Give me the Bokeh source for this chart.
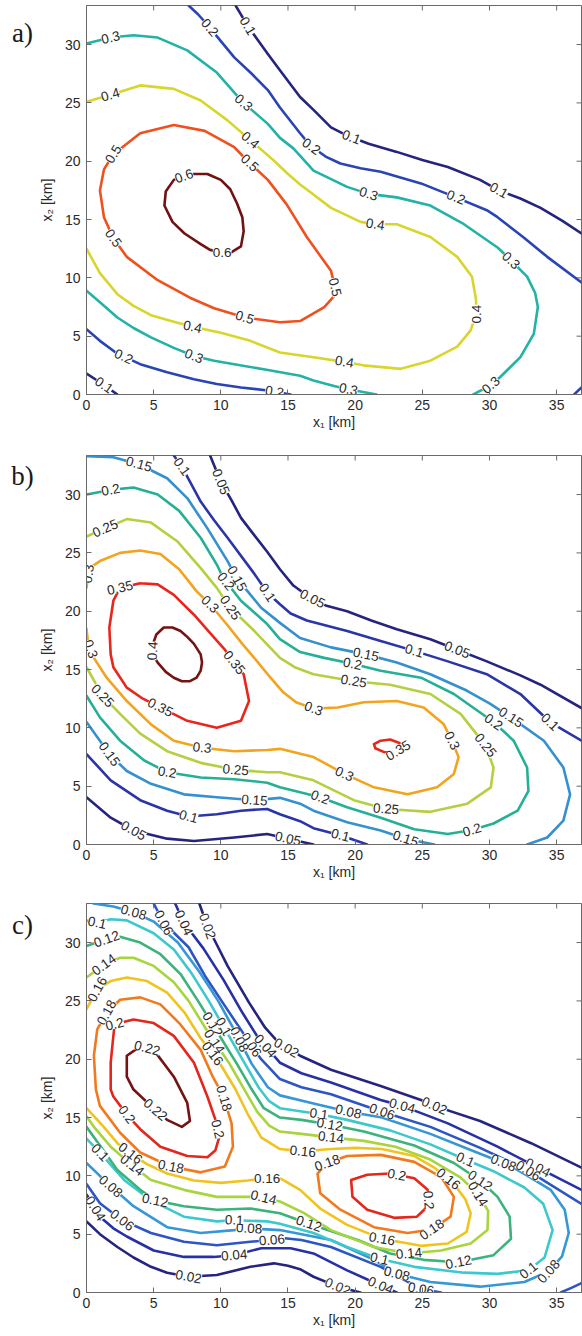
import math
from bokeh.plotting import figure
from bokeh.models import Range1d, FixedTicker, ColumnDataSource
from bokeh.layouts import column, row
from bokeh.embed import file_html
from bokeh.resources import INLINE
from bokeh.core.properties import value

X_MAX = 36.85
Y_MAX = 33.35
X_TICKS = [0, 5, 10, 15, 20, 25, 30, 35]
Y_TICKS = [0, 5, 10, 15, 20, 25, 30]
X_LABEL = "x\u2081 [km]"
Y_LABEL = "x\u2082 [km]"
PANEL_NAMES = ["a)", "b)", "c)"]

# ---------------- panel a ----------------
A_LEVELS = [0.1, 0.2, 0.3, 0.4, 0.5, 0.6]
A_COLORS = ["#25247e", "#2a44b4", "#22b2a6", "#d8d62c", "#f0501e", "#701212"]
A_L01_UPPER = [(11.1, 33.35), (12.0, 31.6), (13.5, 29.2), (14.4, 27.8), (15.9, 25.5), (16.9, 24.4), (18.2, 22.9),
               (19.4, 22.2), (21.0, 21.5), (23.1, 20.8), (25.0, 20.1), (26.9, 19.5), (29.3, 18.4), (30.7, 17.5),
               (32.3, 16.8), (33.8, 16.0), (35.4, 14.9), (36.85, 13.8)]
A_L01_LOWER = [(0, 1.8), (1.0, 1.05), (2.3, 0)]
A_L02_UPPER = [(7.6, 33.35), (8.3, 32.6), (9.0, 31.7), (10.0, 30.3), (11.0, 28.9), (12.3, 27.5), (13.5, 26.1),
               (14.4, 24.6), (15.9, 22.4), (16.7, 21.3), (17.8, 20.4), (18.9, 19.8), (20.4, 19.4), (21.9, 19.1),
               (24.9, 18.1), (27.5, 16.9), (29.8, 15.8), (30.6, 15.2), (32.5, 13.5), (34.3, 11.8), (36.85, 9.6)]
A_L02_LOWER = [(0, 5.6), (1.0, 4.6), (2.3, 3.5), (4.0, 2.6), (6.0, 1.9), (8.0, 1.3), (9.7, 0.9), (11.5, 0.6),
               (13.5, 0.35), (15.2, 0)]
A_L02_CORNER = [(36.3, 0), (36.85, 0.6)]
A_L03_UPPER = [(0, 30.1), (1.8, 30.6), (3.5, 30.8), (5.3, 30.6), (7.5, 29.5), (9.7, 27.6), (11.6, 25.1),
               (13.5, 23.2), (14.4, 22.0), (15.4, 21.1), (16.9, 19.2), (19.4, 17.8), (21.0, 17.2), (23.1, 16.9),
               (25.6, 16.2), (28.1, 14.6), (30.6, 12.6), (31.6, 11.5), (32.8, 10.1), (33.4, 8.7), (33.6, 7.5),
               (33.3, 5.2), (32.3, 3.2), (30.8, 1.5), (30.1, 0.8), (28.8, 0)]
A_L03_LOWER = [(0, 8.9), (1.0, 7.9), (2.3, 6.6), (3.5, 5.7), (4.8, 4.9), (6.5, 4.0), (8.0, 3.3), (9.5, 2.9),
               (11.0, 2.6), (13.5, 2.1), (15.9, 1.6), (16.9, 1.2), (18.5, 0.7), (19.5, 0.45), (21.6, 0)]
A_L04 = [(0, 25.1), (1.8, 25.7), (4.0, 26.5), (6.5, 26.2), (8.5, 25.2), (10.5, 23.5), (12.2, 21.8), (13.9, 20.1),
         (15.0, 18.9), (15.9, 18.0), (16.6, 17.4), (18.2, 16.0), (20.4, 14.8), (21.5, 14.6), (23.1, 14.6),
         (25.6, 13.5), (27.6, 11.8), (28.7, 10.1), (29.0, 8.1), (29.0, 6.9), (28.6, 5.5), (27.6, 4.1), (25.6, 2.9),
         (23.4, 2.2), (20.6, 2.5), (19.2, 2.8), (16.9, 3.2), (14.4, 3.6), (12.2, 4.6), (10.0, 5.3), (7.9, 5.8),
         (6.3, 6.3), (4.8, 6.8), (3.5, 7.6), (2.3, 8.6), (1.0, 10.4), (0, 12.5)]
A_L05 = [(6.5, 23.1), (8.8, 22.6), (11.0, 21.2), (12.1, 19.9), (13.5, 18.4), (14.9, 16.3), (16.4, 13.5),
         (18.2, 10.6), (18.5, 9.2), (18.4, 8.4), (17.7, 7.5), (15.9, 6.3), (14.4, 6.2), (11.8, 6.6), (9.5, 7.4),
         (7.7, 8.3), (5.3, 9.8), (3.0, 11.8), (2.0, 13.4), (1.3, 15.2), (1.0, 17.5), (1.3, 19.3), (2.0, 20.6),
         (4.0, 22.4), (6.5, 23.1)]
A_L06 = [(7.7, 18.9), (9.0, 18.9), (10.0, 18.4), (10.7, 17.6), (11.2, 16.4), (11.6, 15.2), (11.7, 14.0),
         (11.5, 12.7), (10.8, 12.2), (10.1, 12.2), (9.2, 12.4), (8.5, 12.9), (7.3, 13.8), (6.4, 14.8), (5.8, 16.2),
         (5.9, 17.4), (6.5, 18.4), (7.7, 18.9)]
A_LINES = {0.1: [A_L01_UPPER, A_L01_LOWER], 0.2: [A_L02_UPPER, A_L02_LOWER, A_L02_CORNER],
           0.3: [A_L03_UPPER, A_L03_LOWER], 0.4: [A_L04], 0.5: [A_L05], 0.6: [A_L06]}
A_LABELS = [(0.1, 12.0, 31.6), (0.1, 19.7, 22.0), (0.1, 30.7, 17.5), (0.1, 1.3, 0.8),
            (0.2, 9.0, 31.3), (0.2, 16.7, 21.2), (0.2, 27.5, 16.9), (0.2, 2.7, 3.1), (0.2, 14.0, 0.3),
            (0.3, 1.8, 30.6), (0.3, 11.6, 24.9), (0.3, 21.0, 17.2), (0.3, 31.6, 11.5), (0.3, 8.0, 3.3),
            (0.3, 30.1, 0.8), (0.3, 19.5, 0.5),
            (0.4, 1.8, 25.6), (0.4, 12.2, 21.8), (0.4, 21.5, 14.6), (0.4, 29.0, 6.9), (0.4, 19.2, 2.8),
            (0.4, 7.9, 5.8),
            (0.5, 2.0, 20.6), (0.5, 12.1, 19.8), (0.5, 2.0, 13.4), (0.5, 11.8, 6.7), (0.5, 18.5, 9.2),
            (0.6, 7.3, 18.6), (0.6, 10.1, 12.2)]

# ---------------- panel b ----------------
B_LEVELS = [0.05, 0.1, 0.15, 0.2, 0.25, 0.3, 0.35, 0.4]
B_COLORS = ["#25247e", "#2b35a8", "#3590d0", "#25b096", "#b4d040", "#f2a41e", "#e8261c", "#751212"]
B_L005_UPPER = [(9.2, 33.35), (10.0, 31.1), (10.8, 29.5), (11.5, 28.0), (12.5, 26.5), (13.45, 25.1),
                (14.4, 23.6), (15.4, 22.2), (16.6, 21.2), (17.8, 20.5), (19.4, 20.0), (21.2, 19.2),
                (23.1, 18.45), (25.6, 17.6), (27.6, 16.7), (29.8, 15.7), (32.3, 14.5), (33.8, 13.7),
                (36.85, 11.7)]
B_L005_LOWER = [(0, 4.05), (1.8, 2.3), (3.5, 1.2), (6.0, 0.5), (8.0, 0.3), (11.0, 0.6), (13.45, 0.9),
                (15.0, 0.5), (16.9, 0)]
B_L01_UPPER = [(6.5, 33.35), (7.1, 32.4), (8.5, 29.4), (9.5, 27.8), (10.5, 26.3), (12.5, 23.2), (13.45, 21.6),
               (14.4, 20.6), (15.2, 19.8), (16.4, 19.2), (19.4, 18.3), (21.9, 17.45), (24.4, 16.6),
               (26.9, 15.7), (29.8, 14.6), (32.3, 12.9), (34.5, 10.5), (36.85, 8.9)]
B_L01_LOWER = [(0, 7.75), (1.8, 5.5), (4.0, 3.8), (6.0, 2.9), (7.6, 2.4), (9.7, 2.6), (11.5, 2.9),
               (13.45, 3.05), (14.4, 2.6), (15.9, 2.0), (16.9, 1.4), (18.9, 0.8), (20.9, 0)]
B_L015_UPPER = [(0, 33.3), (2.0, 33.2), (3.9, 32.6), (6.0, 31.4), (7.5, 29.7), (9.0, 27.1), (10.5, 24.3),
                (11.2, 22.8), (12.0, 21.7), (13.0, 20.3), (14.4, 19.0), (15.9, 17.7), (18.2, 16.9),
                (20.8, 16.3), (23.1, 15.6), (25.6, 14.6), (28.3, 13.2), (30.0, 12.1), (31.6, 10.9),
                (34.05, 8.9), (35.5, 6.6), (36.0, 4.3), (35.5, 2.05), (34.3, 0.6), (32.8, 0)]
B_L015_LOWER = [(0, 10.5), (1.7, 7.75), (3.0, 6.3), (4.8, 5.2), (7.25, 4.3), (9.7, 4.05), (12.5, 3.8),
                (14.4, 4.0), (15.9, 3.5), (16.9, 2.9), (19.4, 1.9), (21.9, 1.2), (23.75, 0.5), (25.9, 0)]
B_L02 = [(0, 30.0), (1.8, 30.4), (3.5, 30.6), (5.3, 30.0), (6.9, 28.6), (8.5, 26.3), (9.7, 24.0), (10.2, 22.8),
         (11.5, 20.9), (13.45, 18.9), (14.4, 17.6), (15.9, 16.5), (17.7, 16.0), (19.8, 15.5), (21.9, 14.9),
         (24.9, 14.3), (27.35, 12.9), (30.3, 10.5), (31.8, 8.9), (32.8, 6.6), (32.9, 4.6), (32.1, 2.9),
         (30.3, 1.8), (28.7, 1.25), (26.9, 0.9), (24.4, 1.3), (21.9, 2.3), (19.4, 3.2), (17.4, 4.05),
         (14.4, 4.9), (13.45, 5.3), (11.0, 5.6), (8.5, 5.75), (6.0, 6.2), (4.3, 7.2), (2.5, 8.9), (1.0, 10.9),
         (0, 12.75)]
B_L025 = [(0, 26.4), (1.4, 27.1), (3.0, 27.9), (4.8, 27.6), (6.75, 26.0), (8.5, 23.7), (9.7, 22.0),
          (10.7, 20.3), (12.5, 18.3), (14.4, 16.0), (15.5, 15.2), (16.9, 14.6), (19.9, 14.0), (22.6, 13.7),
          (25.6, 12.9), (27.85, 11.2), (29.7, 8.5), (30.3, 6.6), (30.1, 4.9), (28.35, 3.5), (25.6, 2.8),
          (22.3, 3.05), (19.9, 3.8), (16.9, 5.5), (14.4, 6.2), (13.45, 6.2), (11.1, 6.4), (8.5, 7.0), (6.0, 8.0),
          (4.0, 9.5), (2.5, 11.2), (1.2, 12.75), (0, 15.2)]
B_L03 = [(0, 22.0), (0.2, 23.7), (1.0, 24.3), (2.5, 25.0), (4.0, 25.2), (5.5, 24.9), (6.9, 23.6), (8.2, 21.7),
         (9.2, 20.6), (10.5, 18.8), (11.6, 17.2), (12.7, 15.7), (13.7, 14.3), (14.6, 13.1), (15.6, 12.2),
         (16.9, 11.65), (18.7, 11.75), (20.65, 12.2), (23.1, 12.3), (25.1, 11.75), (26.6, 10.3), (27.2, 8.9),
         (27.7, 7.5), (27.35, 6.05), (26.1, 4.9), (23.9, 4.3), (21.4, 4.9), (19.2, 6.05), (16.9, 7.5),
         (14.4, 8.2), (13.45, 8.1), (11.0, 8.0), (8.6, 8.3), (6.5, 8.9), (4.8, 10.3), (3.0, 12.3), (1.5, 14.3),
         (0.55, 16.0), (0.1, 17.45), (0, 18.5)]
B_L035_LEFT = [(4.0, 22.4), (2.5, 22.0), (2.0, 20.9), (1.7, 18.6), (1.8, 16.3), (2.0, 15.2), (3.0, 13.45),
               (4.2, 12.5), (5.5, 11.75), (7.5, 10.6), (9.7, 10.0), (11.5, 10.6), (12.1, 12.3), (11.7, 14.6),
               (11.0, 15.6), (10.3, 16.7), (9.6, 17.6), (8.0, 19.7), (6.5, 21.4), (5.3, 22.3), (4.0, 22.4)]
B_L035_RIGHT = [(21.4, 8.6), (21.9, 8.9), (22.6, 9.0), (23.3, 8.7), (23.4, 8.2), (22.9, 7.85), (22.2, 7.9),
                (21.5, 8.25), (21.4, 8.6)]
B_L04 = [(5.75, 18.6), (5.2, 18.0), (4.95, 17.2), (4.9, 16.3), (5.3, 15.6), (5.9, 14.8), (6.5, 14.3),
         (7.1, 14.0), (7.7, 14.0), (8.2, 14.3), (8.5, 14.9), (8.6, 15.6), (8.5, 16.3), (8.0, 17.2), (7.5, 17.8),
         (7.0, 18.3), (6.4, 18.6), (5.75, 18.6)]
B_LINES = {0.05: [B_L005_UPPER, B_L005_LOWER], 0.1: [B_L01_UPPER, B_L01_LOWER],
           0.15: [B_L015_UPPER, B_L015_LOWER], 0.2: [B_L02], 0.25: [B_L025], 0.3: [B_L03],
           0.35: [B_L035_LEFT, B_L035_RIGHT], 0.4: [B_L04]}
B_LABELS = [(0.05, 10.0, 31.1), (0.05, 16.8, 21.0), (0.05, 27.6, 16.7), (0.05, 3.5, 1.2), (0.05, 15.0, 0.5),
            (0.1, 7.1, 32.4), (0.1, 13.45, 21.6), (0.1, 24.4, 16.6), (0.1, 34.5, 10.5), (0.1, 7.6, 2.4),
            (0.1, 18.9, 0.8),
            (0.15, 3.9, 32.6), (0.15, 11.2, 22.8), (0.15, 20.8, 16.3), (0.15, 31.6, 10.9), (0.15, 1.7, 7.75),
            (0.15, 12.5, 3.8), (0.15, 23.75, 0.5),
            (0.2, 1.8, 30.4), (0.2, 10.2, 22.4), (0.2, 19.8, 15.5), (0.2, 30.3, 10.5), (0.2, 28.7, 1.25),
            (0.2, 17.4, 4.05), (0.2, 6.0, 6.2),
            (0.25, 1.4, 27.1), (0.25, 10.7, 20.3), (0.25, 19.9, 14.0), (0.25, 29.7, 8.5), (0.25, 22.3, 3.05),
            (0.25, 11.1, 6.4), (0.25, 1.2, 12.75),
            (0.3, 0.2, 23.2), (0.3, 9.2, 20.6), (0.3, 16.9, 11.65), (0.3, 27.2, 8.9), (0.3, 19.2, 6.05),
            (0.3, 8.6, 8.3), (0.3, 0.4, 16.8),
            (0.35, 2.5, 22.0), (0.35, 5.5, 11.75), (0.35, 11.0, 15.6), (0.35, 23.5, 7.5),
            (0.4, 4.9, 16.6)]

# ---------------- panel c ----------------
C_LEVELS = [0.02, 0.04, 0.06, 0.08, 0.1, 0.12, 0.14, 0.16, 0.18, 0.2, 0.22]
C_COLORS = ["#25247e", "#2830a8", "#2d55c4", "#3597d6", "#3cc8cc", "#3cb27c", "#a8d43c", "#f0c41e",
            "#f27a1c", "#e4261c", "#751212"]
C_L002_UPPER = [(8.4, 33.35), (9.0, 31.4), (9.8, 29.6), (10.5, 28.0), (12.1, 24.85), (13.3, 22.7), (14.4, 21.3),
                (15.9, 20.3), (18.2, 19.1), (21.9, 17.7), (24.9, 16.5), (25.9, 16.0), (29.3, 14.7), (33.1, 12.8),
                (36.85, 10.7)]
C_L002_LOWER = [(0, 6.1), (1.0, 5.0), (2.3, 3.9), (3.5, 3.0), (4.8, 2.2), (6.0, 1.7), (7.6, 1.35), (9.7, 1.5),
                (12.2, 2.2), (13.95, 2.5), (15.0, 2.3), (15.9, 2.0), (16.9, 1.35), (18.7, 0.5), (20.4, 0)]
C_L004_UPPER = [(6.6, 33.35), (7.25, 31.7), (8.7, 29.5), (10.2, 26.8), (11.6, 24.0), (12.8, 21.8), (14.4, 19.7),
                (16.0, 18.8), (18.2, 18.0), (21.9, 16.5), (23.5, 16.0), (26.9, 14.5), (30.6, 12.5), (33.6, 10.7),
                (36.85, 8.8)]
C_L004_LOWER = [(0, 8.4), (0.65, 7.2), (1.0, 6.5), (2.0, 5.5), (3.0, 4.8), (5.0, 3.6), (7.25, 3.05),
                (9.45, 3.05), (11.0, 3.2), (13.0, 3.8), (15.2, 3.8), (16.9, 3.35), (19.4, 1.9), (21.9, 0.6),
                (23.1, 0)]
C_L006_UPPER = [(5.0, 33.35), (5.75, 31.7), (7.6, 29.6), (8.9, 27.0), (10.4, 24.4), (11.8, 22.0), (13.0, 20.0),
                (14.4, 18.3), (16.0, 17.6), (18.2, 17.0), (22.0, 15.5), (25.6, 14.2), (29.3, 12.4), (32.8, 10.5),
                (36.85, 7.6)]
C_L006_LOWER = [(0, 9.3), (1.0, 7.65), (2.65, 6.2), (4.8, 5.1), (7.25, 4.35), (9.7, 4.05), (12.2, 4.35),
                (13.8, 4.5), (14.4, 4.7), (16.0, 4.5), (18.2, 3.9), (21.9, 2.2), (24.9, 0.3), (26.4, 0)]
C_L006_CORNER = [(35.3, 0), (36.1, 0.4), (36.85, 0.8)]
C_L008 = [(0.5, 33.35), (2.0, 33.1), (3.5, 32.6), (5.0, 31.8), (6.8, 30.0), (8.4, 27.5), (9.8, 25.0),
          (11.1, 22.3), (12.3, 19.6), (13.5, 17.6), (14.4, 16.9), (16.9, 16.2), (19.5, 15.5), (22.0, 15.0),
          (25.6, 13.6), (29.3, 11.9), (31.5, 10.9), (33.0, 9.9), (34.55, 8.8), (35.6, 7.1), (35.9, 5.1),
          (35.4, 3.1), (34.4, 1.8), (32.6, 0.9), (29.3, 0.5), (25.6, 0.9), (23.1, 1.6), (21.4, 2.8), (18.2, 4.5),
          (14.4, 5.35), (12.1, 5.5), (11.0, 5.35), (8.5, 5.1), (6.0, 5.6), (3.5, 7.4), (1.8, 9.1), (0, 11.1)]
C_L010 = [(0, 31.9), (0.8, 31.7), (1.8, 32.0), (3.0, 31.9), (5.0, 30.8), (6.5, 29.4), (7.8, 27.4), (9.1, 25.0),
          (10.4, 22.4), (11.8, 19.6), (12.8, 17.6), (13.6, 16.4), (14.4, 15.8), (17.3, 15.3), (19.4, 14.8),
          (22.6, 13.9), (25.6, 12.7), (28.2, 11.4), (30.3, 10.4), (32.6, 9.0), (34.0, 7.6), (34.7, 5.35),
          (34.1, 3.0), (32.9, 1.9), (30.6, 1.6), (28.1, 1.7), (24.4, 2.2), (21.8, 2.9), (19.4, 3.9), (16.9, 5.1),
          (14.4, 5.9), (13.45, 6.1), (11.0, 6.2), (9.7, 6.1), (7.25, 6.5), (4.8, 7.9), (2.8, 9.65), (1.0, 12.0),
          (0, 13.2)]
C_L012 = [(0, 29.7), (1.5, 30.3), (2.5, 30.5), (4.0, 30.0), (5.5, 29.0), (7.0, 27.3), (8.3, 25.0), (9.7, 22.4),
          (11.2, 19.6), (12.2, 17.6), (13.2, 15.8), (14.4, 15.0), (16.0, 14.8), (18.1, 14.4), (20.65, 13.8),
          (24.4, 12.6), (27.35, 11.1), (29.3, 9.6), (30.6, 8.2), (31.5, 6.5), (31.6, 4.6), (30.3, 3.2),
          (27.7, 2.6), (25.1, 2.8), (22.6, 3.35), (20.2, 4.5), (16.55, 5.9), (14.4, 6.8), (12.2, 7.2), (9.7, 7.1),
          (7.25, 7.4), (5.1, 7.9), (4.0, 8.8), (2.3, 10.5), (1.0, 12.6), (0, 14.2)]
C_L014 = [(0, 27.0), (1.3, 28.1), (2.5, 28.7), (3.5, 28.7), (5.0, 28.0), (6.5, 26.6), (7.6, 25.0), (9.0, 22.4),
          (10.6, 19.7), (11.7, 17.5), (12.7, 15.5), (13.6, 14.3), (14.4, 13.8), (16.0, 13.6), (18.2, 13.3),
          (20.65, 13.0), (23.0, 12.5), (25.6, 11.4), (27.8, 9.9), (29.1, 8.5), (29.9, 7.0), (29.85, 5.35),
          (28.6, 4.2), (26.4, 3.6), (24.0, 3.35), (21.4, 3.9), (18.2, 5.35), (16.2, 6.8), (14.4, 7.8),
          (13.0, 8.2), (9.7, 8.2), (7.25, 8.8), (4.8, 9.65), (3.4, 10.9), (1.8, 12.5), (0.55, 14.2), (0, 15.1)]
C_L016 = [(0, 24.3), (0.8, 26.0), (1.8, 26.7), (3.0, 27.0), (4.5, 26.7), (6.0, 25.7), (7.3, 24.0), (8.5, 21.8),
          (9.9, 19.7), (11.1, 17.4), (12.0, 15.3), (13.0, 13.3), (14.4, 12.3), (16.1, 12.1), (18.2, 12.3),
          (20.0, 12.4), (22.0, 12.3), (24.4, 11.7), (25.9, 10.7), (27.3, 9.4), (28.2, 8.0), (28.6, 6.8),
          (28.3, 5.2), (26.9, 4.2), (24.9, 4.0), (22.0, 4.6), (19.4, 5.8), (17.4, 7.2), (15.9, 8.8), (14.4, 9.8),
          (13.45, 9.8), (12.0, 9.6), (10.0, 9.4), (8.0, 9.6), (6.0, 10.2), (4.5, 11.0), (3.3, 11.9), (2.3, 12.8),
          (1.2, 14.3), (0, 15.8)]
C_L018_LEFT = [(0.8, 22.55), (1.5, 24.0), (2.5, 25.1), (4.0, 25.3), (5.5, 24.7), (6.9, 23.1), (8.5, 20.8),
               (9.4, 18.5), (10.2, 16.8), (10.8, 14.5), (10.9, 12.5), (10.3, 10.8), (8.5, 10.3), (6.25, 10.8),
               (4.0, 12.0), (2.5, 13.7), (1.0, 16.0), (0.7, 17.4), (0.55, 20.3), (0.8, 22.55)]
C_L018_RIGHT = [(17.2, 10.2), (17.9, 11.1), (19.4, 11.7), (21.9, 11.8), (24.4, 11.2), (26.4, 9.9), (27.35, 8.2),
                (27.1, 6.5), (25.7, 5.4), (23.9, 5.1), (21.4, 5.6), (18.9, 7.1), (17.4, 8.5), (17.2, 10.2)]
C_L020_LEFT = [(3.5, 23.4), (2.1, 23.0), (2.0, 22.0), (1.8, 19.7), (1.8, 17.4), (2.0, 16.8), (3.0, 15.25),
               (4.0, 14.0), (5.5, 12.5), (7.5, 11.7), (9.0, 11.6), (9.6, 12.2), (9.9, 13.4), (9.6, 14.8),
               (9.0, 16.8), (8.0, 19.7), (6.5, 22.0), (5.0, 23.1), (3.5, 23.4)]
C_L020_RIGHT = [(19.7, 9.65), (20.9, 10.1), (22.6, 10.2), (24.4, 9.8), (25.4, 8.8), (25.5, 7.5), (24.6, 6.5),
                (22.9, 6.4), (20.9, 7.1), (19.8, 8.2), (19.7, 9.65)]
C_L022 = [(4.0, 21.1), (5.0, 20.8), (6.5, 18.5), (7.5, 16.25), (7.7, 14.7), (7.1, 14.2), (6.0, 14.8),
          (4.8, 16.0), (3.5, 17.4), (3.0, 18.5), (3.0, 20.3), (4.0, 21.1)]
C_LINES = {0.02: [C_L002_UPPER, C_L002_LOWER], 0.04: [C_L004_UPPER, C_L004_LOWER],
           0.06: [C_L006_UPPER, C_L006_LOWER, C_L006_CORNER], 0.08: [C_L008], 0.1: [C_L010],
           0.12: [C_L012], 0.14: [C_L014], 0.16: [C_L016], 0.18: [C_L018_LEFT, C_L018_RIGHT],
           0.2: [C_L020_LEFT, C_L020_RIGHT], 0.22: [C_L022]}
C_LABELS = [(0.02, 9.0, 31.4), (0.02, 14.9, 21.0), (0.02, 25.9, 16.0), (0.02, 7.6, 1.35), (0.02, 18.7, 0.5),
            (0.04, 7.25, 31.7), (0.04, 13.0, 20.8), (0.04, 23.5, 16.0), (0.04, 33.6, 10.7), (0.04, 0.65, 7.2),
            (0.04, 11.0, 3.2), (0.04, 21.9, 0.6),
            (0.06, 5.75, 31.7), (0.06, 12.2, 21.2), (0.06, 22.0, 15.5), (0.06, 32.8, 10.3), (0.06, 2.65, 6.2),
            (0.06, 13.8, 4.5), (0.06, 24.9, 0.3),
            (0.08, 3.5, 32.6), (0.08, 11.2, 21.6), (0.08, 19.5, 15.5), (0.08, 31.0, 11.0), (0.08, 1.8, 9.1),
            (0.08, 12.1, 5.5), (0.08, 23.1, 1.6), (0.08, 34.4, 1.8),
            (0.1, 0.8, 31.7), (0.1, 10.2, 22.8), (0.1, 17.3, 15.3), (0.1, 28.2, 11.4), (0.1, 1.0, 12.0),
            (0.1, 11.0, 6.2), (0.1, 21.8, 2.9), (0.1, 32.9, 1.9),
            (0.12, 1.5, 30.3), (0.12, 9.4, 23.0), (0.12, 18.1, 14.4), (0.12, 29.3, 9.6), (0.12, 5.1, 7.9),
            (0.12, 16.55, 5.9), (0.12, 27.7, 2.6),
            (0.14, 1.3, 28.1), (0.14, 9.5, 21.5), (0.14, 18.2, 13.3), (0.14, 29.1, 8.4), (0.14, 3.4, 10.9),
            (0.14, 13.2, 8.2), (0.14, 24.0, 3.35),
            (0.16, 0.8, 26.0), (0.16, 9.4, 20.5), (0.16, 16.1, 12.1), (0.16, 26.7, 9.4), (0.16, 3.3, 12.0),
            (0.16, 13.45, 9.8), (0.16, 22.0, 4.6),
            (0.18, 1.5, 24.0), (0.18, 9.8, 16.5), (0.18, 6.25, 10.6), (0.18, 17.9, 11.2), (0.18, 25.7, 5.4),
            (0.2, 2.1, 23.0), (0.2, 3.0, 15.25), (0.2, 9.7, 14.0), (0.2, 23.1, 10.1), (0.2, 25.4, 7.9),
            (0.22, 4.5, 20.9), (0.22, 5.0, 15.5)]

# ---------------- layout / style ----------------
NAME_W = 34            # narrow strip holding the panel letter
FIG_W = 582 - NAME_W
BORDER_L = 52
BORDER_R = 1
FRAME_H = 389
FRAME_W = FIG_W - BORDER_L - BORDER_R
TEXT_FONT = "Liberation Sans"
TEXT_COLOR = "#2a2a2a"
AXIS_COLOR = "#6a6a6a"


def snap_label(paths, x, y, sx, sy):
    best = None
    for path in paths:
        for (x0, y0), (x1, y1) in zip(path[:-1], path[1:]):
            ax, ay, bx, by = x0 * sx, y0 * sy, x1 * sx, y1 * sy
            px, py = x * sx, y * sy
            dx, dy = bx - ax, by - ay
            l2 = dx * dx + dy * dy
            t = 0.0 if l2 == 0 else max(0.0, min(1.0, ((px - ax) * dx + (py - ay) * dy) / l2))
            qx, qy = ax + t * dx, ay + t * dy
            d = (qx - px) ** 2 + (qy - py) ** 2
            if best is None or d < best[0]:
                best = (d, qx / sx, qy / sy, math.atan2(dy, dx))
    ang = best[3]
    if ang > math.pi / 2:
        ang -= math.pi
    if ang <= -math.pi / 2:
        ang += math.pi
    return best[1], best[2], ang


def make_name_strip(name, height, offset_from_top):
    s = figure(width=NAME_W, height=height, x_range=Range1d(0, NAME_W), y_range=Range1d(0, height),
               output_backend="svg", toolbar_location=None, title=None, x_axis_type=None, y_axis_type=None,
               min_border=0)
    s.outline_line_color = None
    s.xgrid.visible = False
    s.ygrid.visible = False
    s.background_fill_color = "white"
    s.border_fill_color = "white"
    s.text(x=[22], y=[height - offset_from_top], text=[name], text_align="center",
           text_baseline="middle", text_font=value("Liberation Serif"), text_font_size=value("27px"),
           text_color="#1a1a1a")
    return s


def make_panel(levels, colors, lines, labels, b_top, b_bot):
    height = b_top + FRAME_H + b_bot
    p = figure(width=FIG_W, height=height, x_range=Range1d(0, X_MAX), y_range=Range1d(0, Y_MAX),
               output_backend="svg", toolbar_location=None, title=None,
               min_border_left=BORDER_L, min_border_right=BORDER_R,
               min_border_top=b_top, min_border_bottom=b_bot)
    p.background_fill_color = "white"
    p.border_fill_color = "white"
    p.outline_line_color = AXIS_COLOR
    p.outline_line_width = 1
    p.xgrid.visible = False
    p.ygrid.visible = False
    for ax, ticks, lab in ((p.xaxis, X_TICKS, X_LABEL), (p.yaxis, Y_TICKS, Y_LABEL)):
        ax.ticker = FixedTicker(ticks=ticks)
        ax.major_tick_in = 5
        ax.major_tick_out = 0
        ax.minor_tick_line_color = None
        ax.axis_line_color = AXIS_COLOR
        ax.major_tick_line_color = AXIS_COLOR
        ax.major_label_text_font = TEXT_FONT
        ax.major_label_text_font_size = "14px"
        ax.major_label_text_color = TEXT_COLOR
        ax.axis_label = lab
        ax.axis_label_text_font = TEXT_FONT
        ax.axis_label_text_font_size = "14px"
        ax.axis_label_text_font_style = "normal"
        ax.axis_label_text_color = TEXT_COLOR
    p.xaxis.major_label_standoff = 5
    p.xaxis.axis_label_standoff = 1
    p.yaxis.major_label_standoff = 6
    p.yaxis.axis_label_standoff = 7

    sx = FRAME_W / X_MAX
    sy = FRAME_H / Y_MAX
    # mirrored ticks on top and right edges
    p.segment(x0=X_TICKS, y0=[Y_MAX] * len(X_TICKS), x1=X_TICKS, y1=[Y_MAX - 5 / sy] * len(X_TICKS),
              line_color=AXIS_COLOR, line_width=1)
    p.segment(x0=[X_MAX] * len(Y_TICKS), y0=Y_TICKS, x1=[X_MAX - 5 / sx] * len(Y_TICKS), y1=Y_TICKS,
              line_color=AXIS_COLOR, line_width=1)

    xs, ys, cs = [], [], []
    for lev, col in zip(levels, colors):
        for path in lines[lev]:
            xs.append([pt[0] for pt in path])
            ys.append([pt[1] for pt in path])
            cs.append(col)
    p.multi_line(xs="xs", ys="ys", line_color="c", line_width=2.6, line_join="round", line_cap="round",
                 source=ColumnDataSource(dict(xs=xs, ys=ys, c=cs)))

    lx, ly, la, lt = [], [], [], []
    for lev, x, y in labels:
        qx, qy, ang = snap_label(lines[lev], x, y, sx, sy)
        lx.append(qx)
        ly.append(qy)
        la.append(ang)
        lt.append("%g" % lev)
    p.text(x="x", y="y", text="t", angle="a", source=ColumnDataSource(dict(x=lx, y=ly, a=la, t=lt)),
           text_align="center", text_baseline="middle", text_font=value(TEXT_FONT),
           text_font_size=value("13.5px"), text_color=TEXT_COLOR,
           background_fill_color="white", background_fill_alpha=1.0)
    return p, height


# page rows: a 0-451, b 451-899, c 899-1334
pa, ha = make_panel(A_LEVELS, A_COLORS, A_LINES, A_LABELS, 5, 57)
pb, hb = make_panel(B_LEVELS, B_COLORS, B_LINES, B_LABELS, 4, 55)
pc, hc = make_panel(C_LEVELS, C_COLORS, C_LINES, C_LABELS, 4, 42)

sa = make_name_strip(PANEL_NAMES[0], ha, 32)
sb = make_name_strip(PANEL_NAMES[1], hb, 24)
sc = make_name_strip(PANEL_NAMES[2], hc, 24)

layout = column(row(sa, pa, spacing=0), row(sb, pb, spacing=0), row(sc, pc, spacing=0), spacing=0)
open("out.html", "w").write(file_html(layout, INLINE))
